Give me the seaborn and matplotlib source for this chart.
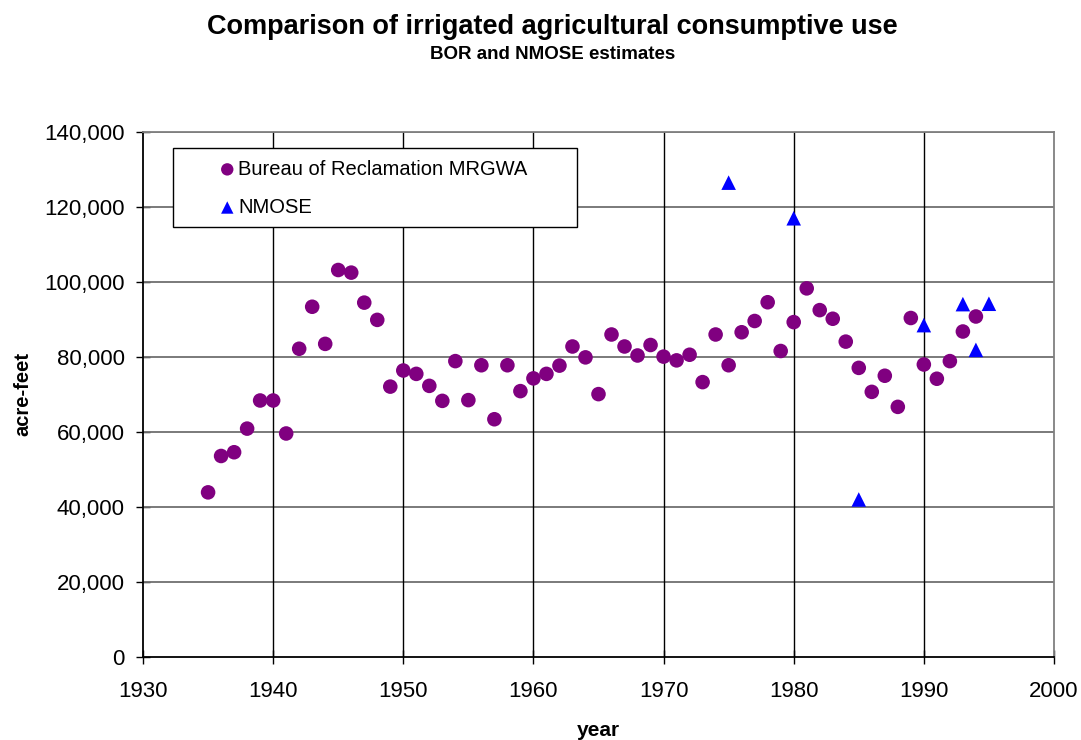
import numpy as np
import pandas as pd
import matplotlib
matplotlib.use("Agg")
import matplotlib.pyplot as plt
import seaborn as sns
from matplotlib.ticker import FuncFormatter, MultipleLocator
from matplotlib.patches import Rectangle

# Bureau of Reclamation MRGWA estimates
bor_years = list(range(1935, 1995))
bor_values = [43900, 53600, 54600, 60900, 68400, 68400, 59600, 82200, 93400, 83500,
              103200, 102500, 94500, 89900, 72100, 76400, 75500, 72300, 68300, 78900,
              68500, 77800, 63400, 77800, 70900, 74300, 75500, 77700, 82800, 79900,
              70100, 86000, 82800, 80400, 83200, 80100, 79100, 80600, 73300, 86000,
              77800, 86600, 89600, 94600, 81600, 89300, 98300, 92500, 90200, 84100,
              77100, 70700, 75000, 66700, 90400, 78000, 74200, 78900, 86800, 90800]

# NMOSE estimates
nmose_years = [1975, 1980, 1985, 1990, 1993, 1994, 1995]
nmose_values = [126500, 117000, 42000, 88500, 94100, 81900, 94200]

bor = pd.DataFrame({"year": bor_years, "acre_feet": bor_values})
nmose = pd.DataFrame({"year": nmose_years, "acre_feet": nmose_values})

sns.set_style("white")
plt.rcParams['font.family'] = ['Liberation Sans', 'DejaVu Sans']
plt.rcParams['text.color'] = 'black'
plt.rcParams['axes.labelcolor'] = 'black'
plt.rcParams['xtick.color'] = 'black'
plt.rcParams['ytick.color'] = 'black'

fig = plt.figure(figsize=(10.81, 7.40), dpi=100)
ax = fig.add_axes([0.1323, 0.1122, 0.975 - 0.1323, 0.8216 - 0.1122])

sns.scatterplot(data=bor, x="year", y="acre_feet", ax=ax, marker="o", s=110,
                color="#800080", edgecolor="none", label="Bureau of Reclamation MRGWA",
                zorder=3)
sns.scatterplot(data=nmose, x="year", y="acre_feet", ax=ax, marker="^", s=110,
                color="#0000FF", edgecolor="none", label="NMOSE", zorder=3)

ax.set_xlim(1930, 2000)
ax.set_ylim(0, 140000)
ax.xaxis.set_major_locator(MultipleLocator(10))
ax.yaxis.set_major_locator(MultipleLocator(20000))
ax.yaxis.set_major_formatter(FuncFormatter(lambda v, p: f"{int(v):,}"))

ax.grid(False)
for yv in range(20000, 140001, 20000):
    ax.axhline(yv, color="#707070", linewidth=1.3, zorder=1)
for xv in range(1940, 2000, 10):
    ax.axvline(xv, color="black", linewidth=1.0, zorder=1)

for side in ax.spines.values():
    side.set_color("#808080")
    side.set_linewidth(1.3)
ax.spines["left"].set_color("black")
ax.spines["bottom"].set_color("black")

ax.tick_params(axis="both", which="major", labelsize=16, direction="inout",
               length=10, width=1, colors="black", left=True, bottom=True)
ax.tick_params(axis="y", pad=8)
ax.tick_params(axis="x", pad=12)

ax.set_xlabel("year", fontsize=15, fontweight="bold", labelpad=14)
ax.set_ylabel("acre-feet", fontsize=14.5, fontweight="bold", labelpad=9)

# legend frame drawn as a rectangle, wider than the text like the reference
ax.add_patch(Rectangle((0.0329, 0.819), 0.4435, 0.150, transform=ax.transAxes,
                       facecolor="white", edgecolor="black", linewidth=1.0, zorder=4))
leg = ax.legend(loc="upper left", bbox_to_anchor=(0.077, 0.955), frameon=False,
                fontsize=14.5, borderpad=0.2, labelspacing=0.95, handletextpad=0.05,
                markerscale=0.85, borderaxespad=0, handlelength=1.0)
leg.set_zorder(5)

fig.text(0.511, 0.963, "Comparison of irrigated agricultural consumptive use",
         ha="center", va="center", fontsize=19.5, fontweight="bold")
fig.text(0.511, 0.926, "BOR and NMOSE estimates",
         ha="center", va="center", fontsize=13.5, fontweight="bold")

fig.savefig("out.png", dpi=100)
